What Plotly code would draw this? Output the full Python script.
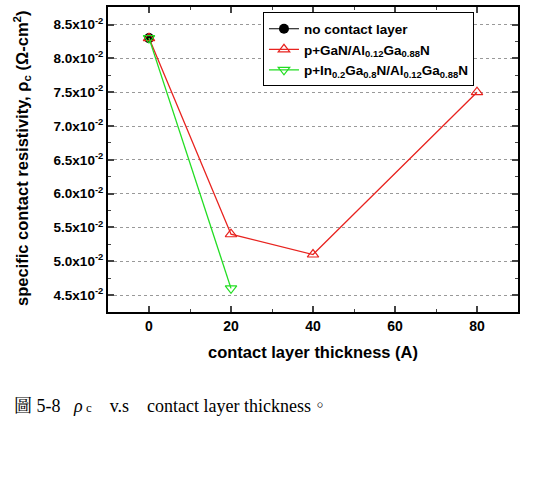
import plotly.graph_objects as go

x_none = [0]
y_none = [0.083]
x_gan = [0, 20, 40, 80]
y_gan = [0.083, 0.054, 0.051, 0.075]
x_ingan = [0, 20]
y_ingan = [0.083, 0.046]

ytick_vals = [0.045, 0.050, 0.055, 0.060, 0.065, 0.070, 0.075, 0.080, 0.085]
ytick_text = ["4.5x10<sup>-2</sup>", "5.0x10<sup>-2</sup>", "5.5x10<sup>-2</sup>", "6.0x10<sup>-2</sup>",
              "6.5x10<sup>-2</sup>", "7.0x10<sup>-2</sup>", "7.5x10<sup>-2</sup>", "8.0x10<sup>-2</sup>",
              "8.5x10<sup>-2</sup>"]
xtick_vals = [0, 20, 40, 60, 80]

FONT = "Liberation Sans"

fig = go.Figure()
fig.add_trace(go.Scatter(x=x_none, y=y_none, mode="lines+markers", name="<b>no contact layer</b>",
                         line=dict(color="black", width=1.2),
                         marker=dict(symbol="circle", size=10, color="black")))
fig.add_trace(go.Scatter(x=x_gan, y=y_gan, mode="lines+markers",
                         name="<b>p+GaN/Al<sub>0.12</sub>Ga<sub>0.88</sub>N</b>",
                         line=dict(color="#e8231f", width=1.3),
                         marker=dict(symbol="triangle-up-open", size=10, color="#e8231f", line=dict(width=1.2))))
fig.add_trace(go.Scatter(x=x_ingan, y=y_ingan, mode="lines+markers",
                         name="<b>p+In<sub>0.2</sub>Ga<sub>0.8</sub>N/Al<sub>0.12</sub>Ga<sub>0.88</sub>N</b>",
                         line=dict(color="#22dd22", width=1.3),
                         marker=dict(symbol="triangle-down-open", size=10, color="#22dd22", line=dict(width=1.2))))

fig.update_layout(
    width=542, height=481,
    margin=dict(l=108, r=24, t=5, b=169),
    paper_bgcolor="white", plot_bgcolor="white",
    font=dict(family=FONT, color="black"),
    showlegend=True,
    legend=dict(x=0.378, y=0.982, xanchor="left", yanchor="top",
                bordercolor="black", borderwidth=1, bgcolor="white",
                font=dict(size=13.5, family=FONT), tracegroupgap=0, itemwidth=30),
    xaxis=dict(range=[-10, 90], tickvals=xtick_vals, ticktext=[f"<b>{v}</b>" for v in xtick_vals],
               ticks="inside", ticklen=6, tickwidth=1.5, mirror="ticks",
               showline=True, linecolor="black", linewidth=2, showgrid=False, zeroline=False,
               tickfont=dict(size=14, family=FONT),
               minor=dict(tickvals=[10, 30, 50, 70], ticks="inside", ticklen=3, tickwidth=1.2)),
    yaxis=dict(range=[0.0425, 0.0876], tickvals=ytick_vals, ticktext=[f"<b>{t}</b>" for t in ytick_text],
               ticks="inside", ticklen=6, tickwidth=1.5, mirror="ticks",
               showline=True, linecolor="black", linewidth=2, zeroline=False,
               showgrid=True, gridcolor="#999999", griddash="dot", gridwidth=1,
               tickfont=dict(size=13.5, family=FONT),
               minor=dict(tickvals=[0.0475, 0.0525, 0.0575, 0.0625, 0.0675, 0.0725, 0.0775, 0.0825],
                          ticks="inside", ticklen=3, tickwidth=1.2)),
    annotations=[
        dict(text="<b>contact layer thickness (A)</b>", xref="paper", yref="paper",
             x=(313 - 108) / 410, y=-(352 - 312) / 307, xanchor="center", yanchor="middle",
             showarrow=False, font=dict(size=16.5, family=FONT)),
        dict(text="<b>specific contact resistivity, ρ<sub>c</sub> (Ω-cm<sup>2</sup>)</b>",
             xref="paper", yref="paper", x=-(108 - 22) / 410, y=(312 - 157) / 307,
             xanchor="center", yanchor="middle", textangle=-90,
             showarrow=False, font=dict(size=16.5, family=FONT)),
        dict(text="圖 5-8   <i>ρ</i><span style='font-size:13px'> c</span>    v.s    contact layer thickness。",
             xref="paper", yref="paper", x=-(108 - 12) / 410, y=-(407 - 312) / 307,
             xanchor="left", yanchor="middle", showarrow=False,
             font=dict(size=18, family="Liberation Serif, Noto Serif CJK TC, Noto Sans CJK TC")),
    ],
)

fig.write_html("out.html")
